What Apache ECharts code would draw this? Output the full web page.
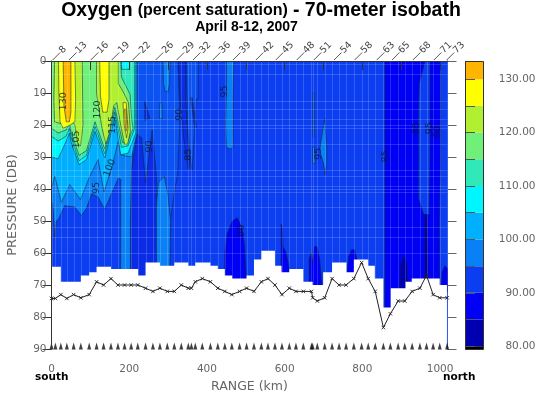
<!DOCTYPE html>
<html>
<head>
<meta charset="utf-8">
<style>html,body{margin:0;padding:0;background:#fff}#c{width:541px;height:395px}</style>
<script src="https://cdn.jsdelivr.net/npm/echarts@6/dist/echarts.min.js"></script>
</head>
<body>
<div id="c"></div>
<script>
// ---------- data (km, dB, percent saturation) ----------
const stationKm = [3,45,101,155,209,268,322,364,415,467,526,577,631,675,727,780,837,876,930,984,1017];
const stationNames = ['8','13','16','19','22','26','29','32','36','39','42','45','48','51','54','58','63','65','68','71','73'];

const profileKm = [0,10,24,39.5,57,75.5,97,116,134,153,171,188,205,222,242,261,279,298,316,334,352,360,370,388,409,428,446,464,484,502,521,540,557,575,593,612,629,648,669,672,684,703,722,740,758,778,798,815,833,854,872,892,909,928,948,965,982,999,1018];
const bottomDepth = [74.2,74.2,73,74.2,73,74,73,69,70,68,70,70,70,70,71,72,71,72,72,70,71,71,69,68,69,71,72,73,72,71,72,69,68,70,73,71,72,72,72,74,75,74,68,70,70,68,63,68,72,83.3,79,75,75,72,71,67,73,74,74];

const sampleLimitKm = [0,24,75.5,97,116,153,223,242,279,316,352,370,409,428,446,465,502,521,540,575,592,612,648,672,699,722,759,778,815,832,854,873,911,927,999];
const sampleLimitDb = [64.3,69,67,66,64.3,65,67,63,64,63,64,63,64,65,67,68,67,62,59.3,64,66,65,69,70,66,63,66,62,64,68,77,71,69,68,70];

const seamDepths = [1,4,12.5,15,18,20,21,26,34,36,39,40,41,45.5,52,55,60];

const tickRange = [0,100,200,300,400,500,600,700,800,900,1000];
const labelRange = [0,200,400,600,800,1000];
const tickPressure = [0,10,20,30,40,50,60,70,80,90];
const tickScale = [80,85,90,95,100,105,110,115,120,125,130];
const labelScale = [80,90,100,110,120,130];

const scaleBreaks = [79.4,80,85,90,95,100,105,110,115,120,125,130,133.3];

const labelKm = [30,117.5,158,65,150,116,253,330,352,446,686,860,939,974,993,490];
const labelDb = [12.6,15.2,20,24.5,33.4,39.7,26.7,16.8,29.3,9.5,29,29.8,21,21,22,53];
const labelText = ['130','120','115','105','100','95','90','90','85','95','95','85','85','95','90','90'];

// contour outlines, [km, dB]
const baseField = [[0,0],[1030,0],[1030,95],[0,95]];
const field92 = [[200,0],[326,0],[330,20],[325,35],[315,42],[306,50],[304,70],[200,70]];
const dome90a = [[203,70],[203,50],[206,34],[220,22.8],[232,24],[242,38],[259,21.5],[270,36],[270,70]];
const col95a = [[270,70],[270,45],[275,38],[290,36],[300,42],[306,50],[304,70]];
const col90a = [[326,0],[345,0],[345,12],[352,25],[356,33],[352,34],[340,24],[331,12]];
const col92b = [[347,0],[378,0],[377,12],[372,12],[368,22],[362,34],[356,30],[350,20]];
const spot85a = [[240,12.6],[246,15],[253,18],[240,18.5]];
const spot95a = [[279,13],[284,13],[285,18],[278,18]];
const finger90 = [[358,11.5],[362,11.5],[373,20.6],[368,20.6]];
const col95b = [[287,0],[305,0],[304,7],[300,9.5],[292,9.5],[288,7]];
const col95c = [[450,0],[469,0],[467,10],[467,27],[460,27.5],[450,27],[448,20],[450,10]];
const sliver95a = [[673,10],[676,10],[676,23.5],[673,23.5]];
const lens95 = [[703,18],[708,27],[708,32],[704,35.5],[700,32],[690,28],[695,24]];
const sliver90 = [[672,27],[677,27],[678,32],[672,32]];
const dome85a = [[446,72],[446,60],[452,54],[465,50],[478,49],[490,52],[497,58],[503,72]];
const spike85 = [[591,51],[594,52],[596,58],[604,60],[612,65],[606,68],[590,68],[591,60]];
const dome85b = [[663,72],[663,62],[668,60],[672,63],[677,58],[683,58],[690,62],[697,72]];
const dome85c = [[759,68],[765,61],[772,59],[780,59],[788,63],[790,68]];
const column85 = [[858,0],[961,0],[946,7],[944,15],[944,43],[958,48],[972,48],[974,30],[974,0],[1001,0],[1001,30],[998,50],[999,90],[858,90]];
const dome80a = [[896,72],[898,64],[906,61],[914,63],[918,72]];
const sliver80 = [[960,48],[966,48],[969,68],[961,68]];
const dome85d = [[1003,72],[1005,66],[1012,64],[1020,65],[1020,72]];

const warm95 = [[0,0],[220,0],[212,20],[206,34],[203,50],[203,70],[178,70],[178,37],[172,36.6],[137,46.3],[120,42.5],[103,41.5],[90,46],[77,48.3],[60,45.6],[34,45.2],[17,49.6],[12,50],[8.5,55],[4,46],[0,43.5]];
const warm100 = [[0,0],[220,0],[220,22.5],[206,30],[180,29.4],[171.6,25],[158,32],[135,41],[120,30.8],[98.6,36],[74.5,43.3],[47,38.6],[25.6,44.2],[8.5,36],[0,39.7]];
const warm105 = [[0,0],[217,0],[217,22.5],[197,28.8],[178,29.3],[163,17.5],[137,30.3],[112,22],[90,30.8],[71,32.4],[51,25.6],[46,22.5],[38,25],[17,30.6],[0,30]];
const warm110 = [[0,0],[214,0],[214,21],[197,26.5],[180,27],[163,16],[137,29],[112,20.5],[90,29.5],[71,31.2],[51,24],[46,21],[38,23.5],[17,25],[0,23.5]];
const patch105 = [[180,0],[201,0],[201,2.6],[180,2.6]];
const warm115 = [[0,0],[178,0],[180,5],[202,10.4],[207,19],[210,21],[197,25],[183,25.5],[163,14.5],[137,27.5],[112,19],[90,28],[71,29.5],[51,22.5],[46,19.5],[38,21.5],[17,22.5],[0,21]];
const warm120a = [[8,0],[79,0],[80,10],[81,20],[75,26.5],[68,26],[60,20],[50,17.5],[38,19],[22,19.5],[8,19],[6,12]];
const warm120b = [[116,0],[172,0],[172,7],[186,10],[198,13],[203,22],[196,26],[188,26],[178,20],[168,13],[160,14],[150,22],[140,26],[130,21],[122,15],[116,10]];
const warm125a = [[18,0],[60,0],[62,12],[60,19],[48,20],[30,21],[22,19],[19,10]];
const warm125b = [[124,0],[148,0],[148,12],[143,16],[132,16],[126,11]];
const warm125c = [[184,13],[192,13],[197,21],[193,24],[187,20]];
const warm130a = [[30,0],[50,0],[50,16],[46,19],[38,19],[32,14]];
const warm130c = [[188,15],[192,15],[195,21],[191,22]];

// ---------- styling tables ----------
const bandColor = {
  79:'#000000',80:'#0000b0',85:'#0000f4',88:'#0a2ce6',90:'#0a3ef0',92:'#0a52f2',95:'#0a80f6',
  100:'#00b0ff',105:'#00f6ff',110:'#30e8b8',115:'#70f078',120:'#b0f030',125:'#ffff00',130:'#ffb400'
};
const regions = [
  [90,baseField,0],[92,field92,1],[88,dome90a,1],[95,col95a,1],[88,col90a,1],[92,col92b,1],
  [88,spot85a,1],[95,spot95a,1],[88,finger90,1],[95,col95b,1],[95,col95c,1],[95,sliver95a,1],
  [95,lens95,1],[95,sliver90,1],[85,dome85a,1],[85,spike85,1],[85,dome85b,1],[85,dome85c,1],
  [85,column85,1],[80,dome80a,1],[80,sliver80,1],[85,dome85d,1],
  [95,warm95,1],[100,warm100,1],[105,warm105,1],[110,warm110,1],[105,patch105,1],[115,warm115,1],
  [120,warm120a,1],[120,warm120b,1],[125,warm125a,1],[125,warm125b,1],[125,warm125c,1],
  [130,warm130a,1],[130,warm130c,1]
];
const ink = '#333';
const gray = '#666';
const FONT = '"DejaVu Sans"';
const HEAD = '"Liberation Sans"';

// built from the step arrays: everything below the deepest sample is blank
const maskPoints = [];
sampleLimitKm.forEach((k,i)=>{
  const next = i+1<sampleLimitKm.length ? sampleLimitKm[i+1] : 1017.6;
  maskPoints.push([k,sampleLimitDb[i]],[next,sampleLimitDb[i]]);
});
maskPoints.push([1017.6,90],[0,90]);

const chart = echarts.init(document.getElementById('c'),null,{renderer:'canvas'});
chart.setOption({
  animation:false,
  backgroundColor:'#fff',
  title:[{
    left:261,top:-1,textAlign:'center',padding:0,
    text:'{a|Oxygen} {b|(percent saturation)} {a|- 70-meter isobath}',
    textStyle:{rich:{
      a:{fontFamily:HEAD,fontWeight:'bold',fontSize:19.5,color:'#000',lineHeight:23},
      b:{fontFamily:HEAD,fontWeight:'bold',fontSize:16,color:'#000',lineHeight:23}
    }}
  },{
    left:246.5,top:20,textAlign:'center',padding:0,
    text:'April 8-12, 2007',
    textStyle:{fontFamily:HEAD,fontWeight:'bold',fontSize:14,color:'#000',lineHeight:15}
  }],
  grid:[
    {left:51.5,top:61,width:396,height:288,outerBoundsMode:'none'},
    {left:465.5,top:61.5,width:18,height:288,outerBoundsMode:'none'}
  ],
  xAxis:[
    {gridIndex:0,type:'value',min:0,max:1019,z:10,
      name:'RANGE (km)',nameLocation:'middle',nameGap:30,
      nameTextStyle:{fontFamily:FONT,fontSize:12.5,color:gray},
      axisLine:{show:true,lineStyle:{color:ink}},
      axisTick:{show:true,length:9,customValues:tickRange,lineStyle:{color:ink}},
      axisLabel:{customValues:labelRange,margin:15,fontFamily:FONT,fontSize:10.5,color:gray,formatter:v=>String(v)},
      splitLine:{show:false}},
    {gridIndex:1,type:'value',min:0,max:1,show:false}
  ],
  yAxis:[
    {gridIndex:0,type:'value',min:0,max:90,inverse:true,z:10,
      name:'PRESSURE (DB)',nameLocation:'middle',nameGap:32,nameRotate:90,
      nameTextStyle:{fontFamily:FONT,fontSize:13,color:gray},
      axisLine:{show:true,lineStyle:{color:ink}},
      axisTick:{show:true,length:9,customValues:tickPressure,lineStyle:{color:ink}},
      axisLabel:{customValues:tickPressure,margin:5,fontFamily:FONT,fontSize:10.5,color:gray},
      splitLine:{show:false}},
    {gridIndex:0,type:'value',min:0,max:90,inverse:true,position:'right',z:0,
      axisLine:{show:true,lineStyle:{color:ink}},
      axisTick:{show:true,length:9,customValues:tickPressure,lineStyle:{color:gray}},
      axisLabel:{show:false},splitLine:{show:false}},
    {gridIndex:1,type:'value',min:79.4,max:133.3,position:'right',z:10,
      axisLine:{show:true,lineStyle:{color:'#333'}},
      axisTick:{show:true,length:9.5,customValues:tickScale,lineStyle:{color:'#555'}},
      axisLabel:{customValues:labelScale,align:'right',margin:52,fontFamily:FONT,fontSize:10.5,color:gray,
        formatter:v=>v.toFixed(2)},
      splitLine:{show:false}}
  ],
  series:[
    {name:'contours',type:'custom',xAxisIndex:0,yAxisIndex:0,z:2,clip:true,silent:true,
      data:regions.map(r=>r[1][0]),encode:{x:0,y:1},
      renderItem(p,api){
        const r=regions[p.dataIndex];
        return {type:'polygon',shape:{points:r[1].map(q=>api.coord(q))},
          style:{fill:bandColor[r[0]],stroke:r[2]?'rgba(12,32,60,0.6)':'none',lineWidth:0.9,lineJoin:'round'}};
      }},
    {name:'seams',type:'custom',xAxisIndex:0,yAxisIndex:0,z:3,clip:true,silent:true,
      data:[[0,0]],encode:{x:0,y:1},
      renderItem(p,api){
        const kids=[];
        const st={stroke:'rgba(255,255,255,0.16)',lineWidth:1};
        seamDepths.forEach(d=>{
          const a=api.coord([0,d]),b=api.coord([1019,d]);
          kids.push({type:'line',shape:{x1:a[0],y1:Math.round(a[1])+.5,x2:b[0],y2:Math.round(b[1])+.5},style:st});
        });
        profileKm.forEach(k=>{
          const a=api.coord([k,0]),b=api.coord([k,90]);
          kids.push({type:'line',shape:{x1:Math.round(a[0])+.5,y1:a[1],x2:Math.round(b[0])+.5,y2:b[1]},style:st});
        });
        return {type:'group',children:kids};
      }},
    {name:'blank',type:'custom',xAxisIndex:0,yAxisIndex:0,z:4,clip:true,silent:true,
      data:[[0,90]],encode:{x:0,y:1},
      renderItem(p,api){
        return {type:'polygon',shape:{points:maskPoints.map(q=>api.coord(q))},style:{fill:'#fff'}};
      }},
    {name:'contour labels',type:'custom',xAxisIndex:0,yAxisIndex:0,z:5,clip:false,silent:true,
      data:labelKm.map((k,i)=>[k,labelDb[i]]),encode:{x:0,y:1},
      renderItem(p,api){
        const c=api.coord([api.value(0),api.value(1)]);
        const t=labelText[p.dataIndex];
        return {type:'text',x:c[0],y:c[1],rotation:(t==='100'?70:90)*Math.PI/180,
          style:{text:t,fontFamily:FONT,fontSize:9.5,fill:'rgba(10,25,45,0.8)',align:'center',verticalAlign:'middle'}};
      }},
    {name:'bottom',type:'line',xAxisIndex:0,yAxisIndex:0,z:6,clip:false,silent:true,
      data:profileKm.map((k,i)=>[k,bottomDepth[i]]),
      lineStyle:{color:'#222',width:1},
      symbol:'path://M0 0L10 10M10 0L0 10',symbolSize:3.5,
      itemStyle:{color:'none',borderColor:'#222',borderWidth:0.9}},
    {name:'stations',type:'scatter',xAxisIndex:0,yAxisIndex:0,z:6,clip:false,silent:true,
      data:profileKm.map(k=>[k,90]),
      symbol:'triangle',symbolSize:[4,7],symbolOffset:[0,-3],itemStyle:{color:'#111'}},
    {name:'station names',type:'custom',xAxisIndex:0,yAxisIndex:0,z:6,clip:false,silent:true,
      data:stationKm.map(k=>[k,0]),encode:{x:0,y:1},
      renderItem(p,api){
        const c=api.coord([api.value(0),0]);
        return {type:'group',children:[
          {type:'line',shape:{x1:c[0],y1:c[1]-1,x2:c[0]+7.5,y2:c[1]-8.5},style:{stroke:'#444',lineWidth:0.9}},
          {type:'text',x:c[0]+8,y:c[1]-9,rotation:Math.PI/4,
            style:{text:stationNames[p.dataIndex],fontFamily:FONT,fontSize:9.5,fill:'#444',align:'left',verticalAlign:'middle'}}
        ]};
      }},
    {name:'scale',type:'custom',xAxisIndex:1,yAxisIndex:2,z:2,clip:true,silent:true,
      data:scaleBreaks.slice(0,-1).map((b,i)=>[0,b,scaleBreaks[i+1]]),encode:{x:0,y:[1,2]},
      renderItem(p,api){
        const lo=api.value(1),hi=api.value(2);
        const a=api.coord([0,hi]),b=api.coord([1,lo]);
        const key=lo<80?79:lo;
        return {type:'rect',shape:{x:a[0],y:a[1],width:b[0]-a[0],height:b[1]-a[1]},style:{fill:bandColor[key]}};
      }}
  ],
  graphic:[
    {type:'text',left:35,top:372,style:{text:'south',fontFamily:FONT,fontWeight:'bold',fontSize:10.5,fill:'#000'}},
    {type:'text',left:443,top:372,style:{text:'north',fontFamily:FONT,fontWeight:'bold',fontSize:10.5,fill:'#000'}},
    {type:'rect',shape:{x:465.5,y:61.5,width:18,height:288},style:{fill:'none',stroke:'#333',lineWidth:1},z:20}
  ]
});
</script>
</body>
</html>
